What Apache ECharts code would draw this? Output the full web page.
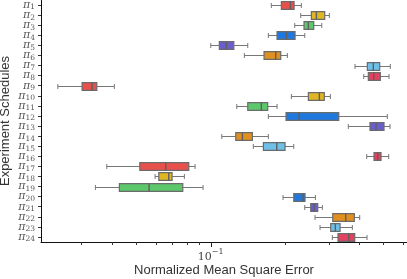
<!DOCTYPE html>
<html>
<head>
<meta charset="utf-8">
<script src="https://cdn.jsdelivr.net/npm/echarts@6/dist/echarts.min.js"></script>
<style>html,body{margin:0;padding:0;background:#fff}#c{width:407px;height:279px}</style>
</head>
<body>
<div id="c"></div>
<script>
// Schedules (π subscripts), top to bottom
const categories = ['1','2','3','4','5','6','7','8','9','10','11','12','13','14','15','16','17','18','19','20','21','22','23','24'];
// Box statistics (NMSE)
const whiskerLow  = [0.1757,0.2310,0.2185,0.1709,0.1000,0.1367,0.3828,0.4152,0.02409,0.2117,0.1274,0.1709,0.3597,0.1108,0.1486,0.4269,0.03800,0.05955,0.03418,0.1959,0.2398,0.2639,0.2764,0.3100];
const q1          = [0.1929,0.2550,0.2382,0.1853,0.1083,0.1642,0.4293,0.4333,0.03020,0.2480,0.1411,0.2015,0.4401,0.1262,0.1632,0.4569,0.05166,0.06165,0.04272,0.2165,0.2535,0.3112,0.3054,0.3268];
const median      = [0.2097,0.2672,0.2480,0.2021,0.1156,0.1830,0.4539,0.4556,0.03315,0.2747,0.1601,0.2274,0.4654,0.1342,0.1848,0.4728,0.06579,0.06765,0.05632,0.2360,0.2615,0.3512,0.3188,0.3611];
const q3          = [0.2171,0.2888,0.2607,0.2191,0.1239,0.1918,0.4817,0.4845,0.03463,0.2877,0.1699,0.3290,0.5014,0.1473,0.1996,0.4876,0.08149,0.06976,0.07706,0.2404,0.2706,0.3804,0.3331,0.3818];
const whiskerHigh = [0.2323,0.3015,0.2809,0.2398,0.1411,0.2040,0.5317,0.5253,0.04077,0.3043,0.1853,0.5170,0.5302,0.1709,0.2165,0.5239,0.08640,0.07823,0.09309,0.2647,0.2824,0.4000,0.3734,0.4281];
// Axis ticks
const xMajorTicks = [0.1];
const xMajorLabels = ['10^-1'];
const xMinorTicks = [0.03,0.04,0.05,0.06,0.07,0.08,0.09,0.2,0.3,0.4,0.5,0.6];
const xRange = [0.0206, 0.621];

const palette = ['#E8514B','#E0B622','#5DC86B','#1F78DD','#6A5ECC','#E0901F','#6EC0E8','#E4405F'];

const L = Math.log10;
const data = categories.map((c, i) => [i, L(whiskerLow[i]), L(q1[i]), L(median[i]), L(q3[i]), L(whiskerHigh[i])]);

const chart = echarts.init(document.getElementById('c'), null, {renderer: 'canvas'});

function renderItem(params, api) {
  const yi = api.value(0);
  const pLo = api.coord([api.value(1), yi]);
  const pQ1 = api.coord([api.value(2), yi]);
  const pMd = api.coord([api.value(3), yi]);
  const pQ3 = api.coord([api.value(4), yi]);
  const pHi = api.coord([api.value(5), yi]);
  const band = api.size([0, 1])[1];
  const h = band * 0.78;
  const cy = Math.round(pLo[1]) + 0.5;
  const capH = 2.5;
  const col = palette[yi % palette.length];
  const lineStyle = {stroke: '#777', lineWidth: 1};
  return {
    type: 'group',
    children: [
      {type: 'line', shape: {x1: pLo[0], y1: cy, x2: pQ1[0], y2: cy}, style: lineStyle},
      {type: 'line', shape: {x1: pQ3[0], y1: cy, x2: pHi[0], y2: cy}, style: lineStyle},
      {type: 'line', shape: {x1: pLo[0], y1: cy - capH, x2: pLo[0], y2: cy + capH}, style: lineStyle},
      {type: 'line', shape: {x1: pHi[0], y1: cy - capH, x2: pHi[0], y2: cy + capH}, style: lineStyle},
      {type: 'rect', shape: {x: pQ1[0], y: cy - h / 2, width: pQ3[0] - pQ1[0], height: h},
        style: {fill: col, stroke: '#6b6b6b', lineWidth: 1.2}},
      {type: 'line', shape: {x1: pMd[0], y1: cy - h / 2, x2: pMd[0], y2: cy + h / 2},
        style: {stroke: '#5f5f5f', lineWidth: 1.4}}
    ]
  };
}

const xMin = L(xRange[0]), xMax = L(xRange[1]);

chart.setOption({
  animation: false,
  grid: {left: 41, right: 0, top: 0, bottom: 37, containLabel: false, outerBoundsMode: 'none'},
  xAxis: [
    {
      type: 'value', min: xMin, max: xMax, position: 'bottom',
      splitLine: {show: false},
      axisLine: {show: true, lineStyle: {color: '#111', width: 1}},
      axisTick: {show: true, length: 3, lineStyle: {color: '#333'}, customValues: xMinorTicks.map(L)},
      axisLabel: {show: false},
      name: 'Normalized Mean Square Error', nameLocation: 'middle', nameGap: 22,
      nameTextStyle: {fontFamily: 'Liberation Sans', fontSize: 13, color: '#333'}
    },
    {
      type: 'value', min: xMin, max: xMax, position: 'bottom',
      splitLine: {show: false},
      axisLine: {show: false},
      axisTick: {show: true, length: 5, lineStyle: {color: '#222'}, customValues: xMajorTicks.map(L)},
      axisLabel: {
        show: true, margin: 6, customValues: xMajorTicks.map(L),
        formatter: function (v) {
          const idx = xMajorTicks.findIndex(t => Math.abs(L(t) - v) < 1e-6);
          const parts = (xMajorLabels[idx] || '').split('^');
          return '{b|' + parts[0] + '}{e|' + (parts[1] || '').replace('-', '\u2212') + '}';
        },
        rich: {
          b: {fontFamily: 'DejaVu Serif', fontSize: 11, color: '#444', verticalAlign: 'bottom'},
          e: {fontFamily: 'DejaVu Serif', fontSize: 8, color: '#444', padding: [0, 0, 7, 0], verticalAlign: 'bottom'}
        }
      }
    }
  ],
  yAxis: {
    type: 'category', inverse: true, data: categories,
    axisLine: {show: true, lineStyle: {color: '#111', width: 1}},
    axisTick: {show: true, alignWithLabel: true, length: 3, lineStyle: {color: '#333'}},
    splitLine: {show: false},
    axisLabel: {
      margin: 6, interval: 0,
      formatter: v => '{p|\u03c0}{s|' + v + '}',
      rich: {
        p: {fontFamily: 'DejaVu Serif', fontSize: 11, color: '#555', fontStyle: 'italic'},
        s: {fontFamily: 'DejaVu Serif', fontSize: 7.5, color: '#555', padding: [5, 0, 0, 0]}
      }
    },
    name: 'Experiment Schedules', nameLocation: 'middle', nameGap: 29, nameMoveOverlap: false,
    nameTextStyle: {fontFamily: 'Liberation Sans', fontSize: 13, color: '#333'}
  },
  series: [{
    type: 'custom',
    xAxisIndex: 0,
    renderItem: renderItem,
    encode: {x: [1, 2, 3, 4, 5], y: 0},
    data: data
  }]
});
</script>
</body>
</html>
